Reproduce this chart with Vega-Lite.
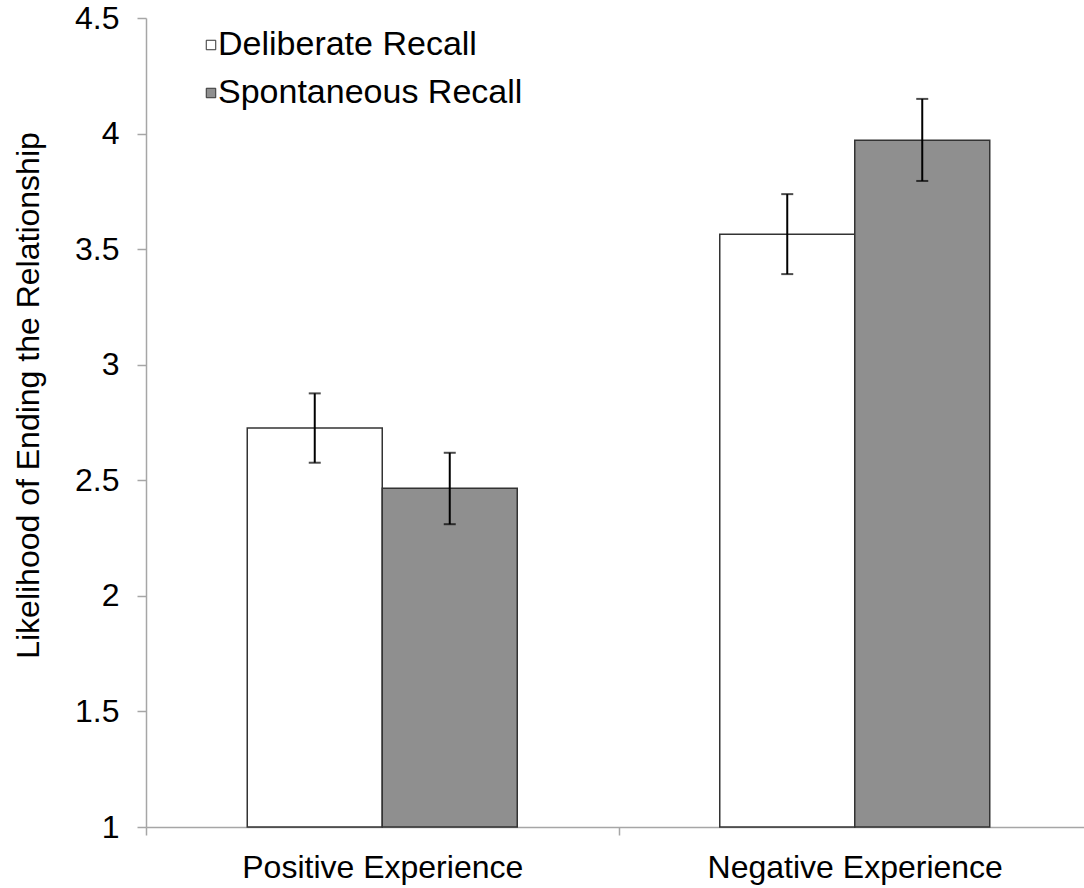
{
  "$schema": "https://vega.github.io/schema/vega-lite/v6.json",
  "width": 938,
  "height": 809,
  "autosize": {"type": "none"},
  "padding": {"left": 146, "top": 18, "right": 0, "bottom": 61},
  "background": "white",
  "config": {"view": {"stroke": null}, "font": "Liberation Sans"},
  "data": {
    "values": [
      {"experience": "Positive Experience", "recall": "Deliberate Recall", "mean": 2.726, "lo": 2.576, "hi": 2.876},
      {"experience": "Positive Experience", "recall": "Spontaneous Recall", "mean": 2.466, "lo": 2.31, "hi": 2.619},
      {"experience": "Negative Experience", "recall": "Deliberate Recall", "mean": 3.564, "lo": 3.392, "hi": 3.738},
      {"experience": "Negative Experience", "recall": "Spontaneous Recall", "mean": 3.971, "lo": 3.795, "hi": 4.15}
    ]
  },
  "encoding": {
    "x": {
      "field": "experience",
      "type": "nominal",
      "sort": ["Positive Experience", "Negative Experience"],
      "scale": {"paddingInner": 0, "paddingOuter": 0, "range": [0, 945]},
      "axis": {
        "title": null,
        "labelAngle": 0,
        "domainColor": "#a6a6a6",
        "domainWidth": 1.5,
        "tickColor": "#a6a6a6",
        "tickWidth": 1.5,
        "tickSize": 8,
        "tickBand": "extent",
        "labelFontSize": 32,
        "labelColor": "black",
        "labelBaseline": "alphabetic",
        "labelPadding": 42,
        "labelLimit": 500
      }
    },
    "xOffset": {
      "field": "recall",
      "type": "nominal",
      "sort": ["Deliberate Recall", "Spontaneous Recall"],
      "scale": {"paddingInner": 0, "paddingOuter": 0.75}
    }
  },
  "layer": [
    {
      "mark": {"type": "bar", "stroke": "#333333", "strokeWidth": 1.5},
      "encoding": {
        "y": {
          "field": "mean",
          "type": "quantitative",
          "title": "Likelihood of Ending the Relationship",
          "scale": {"domain": [1, 4.5], "zero": false, "nice": false},
          "axis": {
            "values": [1, 1.5, 2, 2.5, 3, 3.5, 4, 4.5],
            "format": "~g",
            "grid": false,
            "domainColor": "#a6a6a6",
            "domainWidth": 1.5,
            "tickColor": "#a6a6a6",
            "tickWidth": 1.5,
            "tickSize": 9,
            "labelFontSize": 32,
            "labelColor": "black",
            "labelPadding": 18,
            "titleFontSize": 32,
            "titleFontWeight": "normal",
            "titleColor": "black",
            "titleX": -108,
            "titleY": 377,
            "titleAngle": 270,
            "titleAlign": "center",
            "titleBaseline": "alphabetic"
          }
        },
        "y2": {"datum": 1},
        "fill": {
          "field": "recall",
          "type": "nominal",
          "scale": {"domain": ["Deliberate Recall", "Spontaneous Recall"], "range": ["#ffffff", "#8f8f8f"]},
          "legend": {
            "title": null,
            "orient": "none",
            "legendX": 48,
            "legendY": 10,
            "direction": "vertical",
            "symbolType": "square",
            "symbolSize": 90,
            "symbolStrokeColor": "#333333",
            "symbolStrokeWidth": 1,
            "labelFontSize": 34,
            "labelColor": "black",
            "labelOffset": -10,
            "labelLimit": 500,
            "rowPadding": 14,
            "padding": 0
          }
        }
      }
    },
    {
      "mark": {"type": "rule", "color": "black", "strokeWidth": 2},
      "encoding": {
        "y": {"field": "lo", "type": "quantitative", "title": "Likelihood of Ending the Relationship"},
        "y2": {"field": "hi"}
      }
    },
    {
      "mark": {"type": "tick", "color": "black", "thickness": 2, "size": 12},
      "encoding": {
        "y": {"field": "lo", "type": "quantitative", "title": "Likelihood of Ending the Relationship"}
      }
    },
    {
      "mark": {"type": "tick", "color": "black", "thickness": 2, "size": 12},
      "encoding": {
        "y": {"field": "hi", "type": "quantitative", "title": "Likelihood of Ending the Relationship"}
      }
    }
  ]
}
